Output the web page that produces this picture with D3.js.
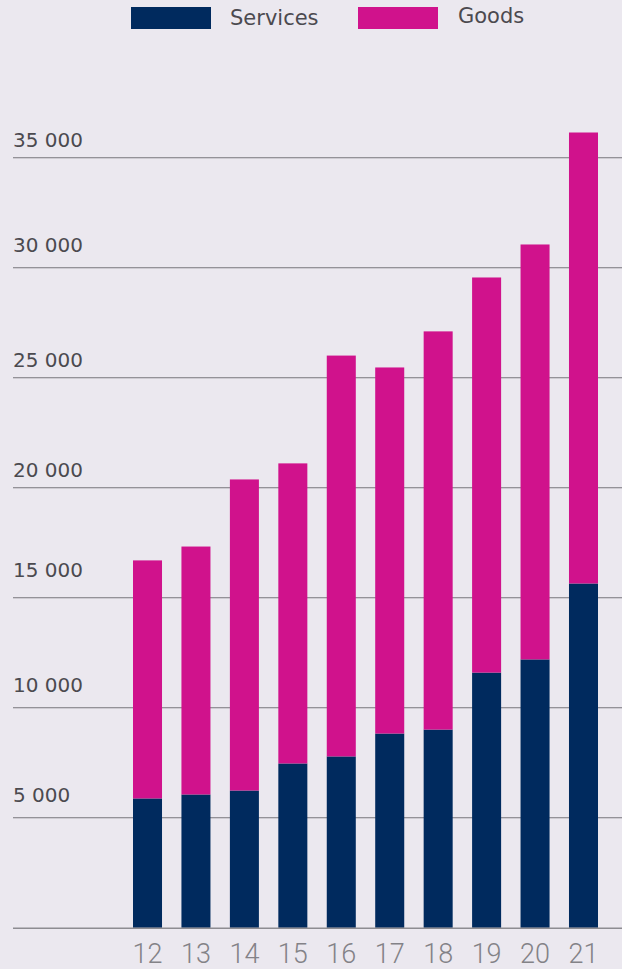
<!DOCTYPE html>
<html>
<head>
<meta charset="utf-8">
<script src="https://cdn.jsdelivr.net/npm/d3@7"></script>
<style>
  html, body { margin: 0; padding: 0; background: #ebe8ef; }
  svg { display: block; }
</style>
</head>
<body>
<div id="chart"></div>
<script>
const categories = ["12", "13", "14", "15", "16", "17", "18", "19", "20", "21"];
const services = [5880, 6060, 6240, 7470, 7790, 8830, 9010, 11600, 12200, 15650];
const goods = [10820, 11270, 14140, 13640, 18220, 16640, 18100, 17960, 18860, 20500];
const yTicks = [5000, 10000, 15000, 20000, 25000, 30000, 35000];
const seriesNames = ["Services", "Goods"];
const seriesColors = ["#002a5e", "#d0128c"];

// layout-only tweaks for tick label placement (pixels above gridline)
const labelLift = {5000: 16, 10000: 16, 15000: 21, 20000: 11, 25000: 11, 30000: 15.5, 35000: 11};

const W = 622, H = 969;
const svg = d3.select("#chart").append("svg").attr("width", W).attr("height", H);
svg.append("rect").attr("width", W).attr("height", H).attr("fill", "#ebe8ef");

const y = d3.scaleLinear().domain([0, 35000]).range([927.8, 157.8]);
const x = d3.scaleBand().domain(categories).range([133, 598]).paddingInner(0.401).paddingOuter(0);

// gridlines
svg.append("g").selectAll("line").data(yTicks).join("line")
  .attr("x1", 13).attr("x2", W)
  .attr("y1", d => y(d)).attr("y2", d => y(d))
  .attr("stroke", "#77767b").attr("stroke-width", 1.1);

// y labels
svg.append("g").selectAll("text").data(yTicks).join("text")
  .attr("x", 13).attr("y", d => y(d) - labelLift[d])
  .attr("font-family", "DejaVu Sans, sans-serif").attr("font-size", 20)
  .attr("fill", "#4b4a4f")
  .text(d => d3.format(",")(d).replace(/,/g, " "));

// stacked bars
const rows = categories.map((c, i) => ({cat: c, Services: services[i], Goods: goods[i]}));
const stack = d3.stack().keys(seriesNames)(rows);
svg.append("g").selectAll("g").data(stack).join("g")
  .attr("fill", (d, i) => seriesColors[i])
  .selectAll("rect").data(d => d).join("rect")
  .attr("x", d => x(d.data.cat))
  .attr("width", x.bandwidth())
  .attr("y", d => y(d[1]))
  .attr("height", d => y(d[0]) - y(d[1]));

// baseline
svg.append("line").attr("x1", 13).attr("x2", W)
  .attr("y1", y(0) + 0.5).attr("y2", y(0) + 0.5)
  .attr("stroke", "#8d8c91").attr("stroke-width", 1.6);

// x labels
svg.append("g").selectAll("text").data(categories).join("text")
  .attr("x", d => x(d) + x.bandwidth() / 2)
  .attr("y", 963)
  .attr("text-anchor", "middle")
  .attr("font-family", "Roboto, sans-serif").attr("font-weight", 300).attr("font-size", 27)
  .attr("fill", "#838287")
  .text(d => d);

// legend
const legendX = [131, 358];
const legendTextX = [230, 458];
const legendBase = [25, 23];
const lg = svg.append("g");
seriesNames.forEach((n, i) => {
  lg.append("rect").attr("x", legendX[i]).attr("y", 7).attr("width", 80).attr("height", 22)
    .attr("fill", seriesColors[i]);
  lg.append("text").attr("x", legendTextX[i]).attr("y", legendBase[i])
    .attr("font-family", "DejaVu Sans, sans-serif").attr("font-size", 21)
    .attr("fill", "#4b4a4f").text(n);
});
</script>
</body>
</html>
